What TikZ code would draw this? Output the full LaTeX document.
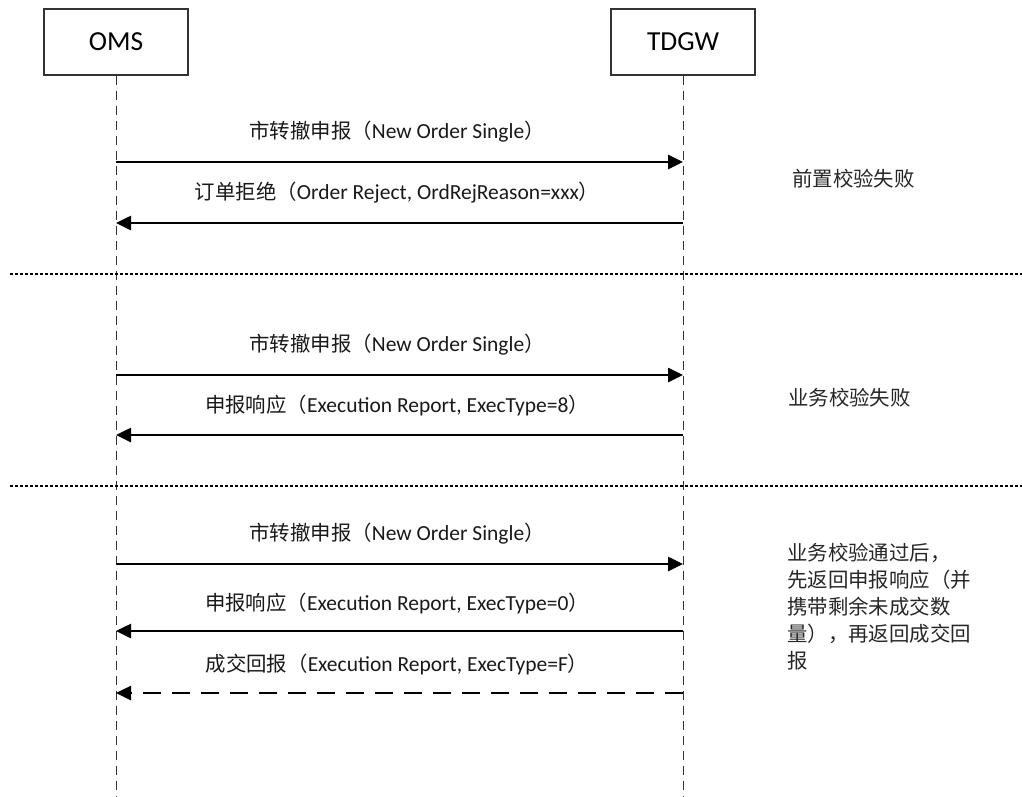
\documentclass[tikz,border=0pt]{standalone}
\usepackage{fontspec}
\setmainfont{Carlito}
\newfontfamily\cjk[Scale=0.95]{Noto Sans CJK SC}
\usetikzlibrary{arrows.meta}
\begin{document}
\begin{tikzpicture}[x=1pt,y=-1pt,
  actor/.style={draw=black!80, line width=1.4pt, minimum width=144pt, minimum height=66pt, inner sep=0pt, font=\fontsize{27.5}{30}\selectfont},
  life/.style={draw=black!80, line width=1pt, dash pattern=on 9pt off 6pt},
  msg/.style={line width=2.6pt, -{Triangle[length=15pt,width=14pt]}},
  msgd/.style={msg, dash pattern=on 18pt off 11pt},
  lbl/.style={font=\fontsize{21.5}{24}\selectfont, inner sep=0pt, text=black!90},
  note/.style={font=\cjk\fontsize{21.5}{27}\selectfont, inner sep=0pt, anchor=west, align=left, text=black!85},
  sep/.style={line width=2.4pt, dash pattern=on 2.6pt off 2.4pt}]
\useasboundingbox (0,0) rectangle (1022,796);
% actors
\node[actor] (oms) at (116,42) {OMS};
\node[actor] (tdgw) at (683,42) {TDGW};
\coordinate (omsend) at (116,796);
\coordinate (tdgwend) at (683,796);
\draw[life] (oms.south) -- (omsend);
\draw[life] (tdgw.south) -- (tdgwend);
% separators
\coordinate (s1a) at (10,274); \coordinate (s1b) at (1022,274);
\coordinate (s2a) at (10,486); \coordinate (s2b) at (1022,486);
\draw[sep] (s1a) -- (s1b);
\draw[sep] (s2a) -- (s2b);
% section 1
\coordinate (a1) at (116,162); \coordinate (b1) at (683,162);
\coordinate (a2) at (116,223); \coordinate (b2) at (683,223);
\draw[msg] (a1) -- (b1);
\draw[msg] (b2) -- (a2);
\node[lbl] (l1) at (397,132) {{\cjk 市转撤申报（}New Order Single{\cjk ）}};
\node[lbl] (l2) at (397,193) {{\cjk 订单拒绝（}Order Reject, OrdRejReason=xxx{\cjk ）}};
\node[note] (n1) at (792,179) {前置校验失败};
% section 2
\coordinate (a3) at (116,375); \coordinate (b3) at (683,375);
\coordinate (a4) at (116,435); \coordinate (b4) at (683,435);
\draw[msg] (a3) -- (b3);
\draw[msg] (b4) -- (a4);
\node[lbl] (l3) at (397,345) {{\cjk 市转撤申报（}New Order Single{\cjk ）}};
\node[lbl] (l4) at (397,405) {{\cjk 申报响应（}Execution Report, ExecType=8{\cjk ）}};
\node[note] (n2) at (788,398) {业务校验失败};
% section 3
\coordinate (a5) at (116,564); \coordinate (b5) at (683,564);
\coordinate (a6) at (116,631); \coordinate (b6) at (683,631);
\coordinate (a7) at (116,693); \coordinate (b7) at (683,693);
\draw[msg] (a5) -- (b5);
\draw[msg] (b6) -- (a6);
\draw[msgd] (b7) -- (a7);
\node[lbl] (l5) at (397,534) {{\cjk 市转撤申报（}New Order Single{\cjk ）}};
\node[lbl] (l6) at (397,603) {{\cjk 申报响应（}Execution Report, ExecType=0{\cjk ）}};
\node[lbl] (l7) at (397,664) {{\cjk 成交回报（}Execution Report, ExecType=F{\cjk ）}};
\node[note] (n3) at (787,607) {业务校验通过后，\\先返回申报响应（并\\携带剩余未成交数\\量），再返回成交回\\报};
\end{tikzpicture}
\end{document}
